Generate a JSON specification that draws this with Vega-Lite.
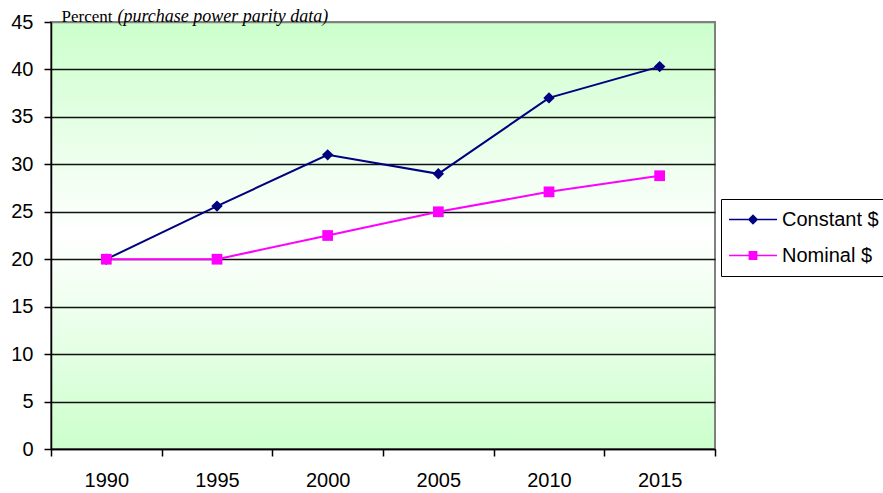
{
  "$schema": "https://vega.github.io/schema/vega-lite/v6.json",
  "width": 664,
  "height": 427,
  "autosize": {"type": "none"},
  "padding": {"left": 51, "top": 22, "right": 168, "bottom": 44},
  "background": "white",
  "data": {
    "values": [
      {"year": "1990", "series": "Constant $", "percent": 20.0},
      {"year": "1995", "series": "Constant $", "percent": 25.6},
      {"year": "2000", "series": "Constant $", "percent": 31.0},
      {"year": "2005", "series": "Constant $", "percent": 29.0},
      {"year": "2010", "series": "Constant $", "percent": 37.0},
      {"year": "2015", "series": "Constant $", "percent": 40.3},
      {"year": "1990", "series": "Nominal $", "percent": 20.0},
      {"year": "1995", "series": "Nominal $", "percent": 20.0},
      {"year": "2000", "series": "Nominal $", "percent": 22.5},
      {"year": "2005", "series": "Nominal $", "percent": 25.0},
      {"year": "2010", "series": "Nominal $", "percent": 27.1},
      {"year": "2015", "series": "Nominal $", "percent": 28.8}
    ]
  },
  "encoding": {
    "x": {
      "field": "year",
      "type": "ordinal",
      "scale": {"paddingInner": 0, "paddingOuter": 0},
      "axis": {
        "title": "(purchase power parity data)",
        "titleFont": "Liberation Serif",
        "titleFontSize": 18,
        "titleFontStyle": "italic",
        "titleFontWeight": "normal",
        "titleColor": "black",
        "titleAlign": "left",
        "titleBaseline": "alphabetic",
        "titleAngle": 0,
        "titleX": 66,
        "titleY": -428,
        "labelAngle": 0,
        "labelFont": "Liberation Sans",
        "labelFontSize": 20,
        "labelColor": "black",
        "labelPadding": 14,
        "tickBand": "extent",
        "tickSize": 7,
        "tickColor": "black",
        "tickWidth": 1.5,
        "domainColor": "black",
        "domainWidth": 1.5,
        "grid": false
      }
    },
    "y": {
      "field": "percent",
      "type": "quantitative",
      "scale": {"domain": [0, 45], "nice": false},
      "axis": {
        "title": "Percent",
        "titleFont": "Liberation Serif",
        "titleFontSize": 17,
        "titleFontWeight": "normal",
        "titleColor": "black",
        "titleAngle": 0,
        "titleAlign": "left",
        "titleBaseline": "alphabetic",
        "titleX": 10,
        "titleY": -1,
        "values": [0, 5, 10, 15, 20, 25, 30, 35, 40, 45],
        "labelFont": "Liberation Sans",
        "labelFontSize": 20,
        "labelColor": "black",
        "labelPadding": 11,
        "tickSize": 7,
        "tickColor": "black",
        "tickWidth": 1.5,
        "domainColor": "black",
        "domainWidth": 1.5,
        "grid": true,
        "gridColor": {"condition": {"test": "datum.value === 45", "value": "#808080"}, "value": "#111111"},
        "gridWidth": 1.6
      }
    },
    "color": {
      "field": "series",
      "type": "nominal",
      "scale": {"domain": ["Constant $", "Nominal $"], "range": ["#000080", "#ff00ff"]},
      "legend": {
        "title": null,
        "orient": "none",
        "legendX": 670,
        "legendY": 177,
        "padding": 7,
        "strokeColor": "black",
        "fillColor": "white",
        "labelFont": "Liberation Sans",
        "labelFontSize": 20,
        "labelColor": "black",
        "symbolSize": 64,
        "symbolOffset": 15,
        "labelOffset": 19,
        "rowPadding": 9,
        "clipHeight": 27,
        "encode": {
          "symbols": {
            "update": {
              "shape": {"signal": "datum.value === 'Constant $' ? 'M-6,-0.2H6V0.2H-6Z M0,-1.3L1.3,0L0,1.3L-1.3,0Z' : 'M-6,-0.2H6V0.2H-6Z M-1.1,-1.1H1.1V1.1H-1.1Z'"},
              "strokeWidth": {"value": 0},
              "opacity": {"value": 1}
            }
          }
        }
      }
    }
  },
  "layer": [
    {
      "mark": {"type": "line", "strokeWidth": 2},
      "encoding": {}
    },
    {
      "transform": [{"filter": "datum.series === 'Constant $'"}],
      "mark": {"type": "point", "shape": "diamond", "filled": true, "opacity": 1, "size": 130},
      "encoding": {}
    },
    {
      "transform": [{"filter": "datum.series === 'Nominal $'"}],
      "mark": {"type": "point", "shape": "square", "filled": true, "opacity": 1, "size": 115},
      "encoding": {}
    }
  ],
  "config": {
    "view": {
      "stroke": "#808080",
      "strokeWidth": 2,
      "fill": {
        "gradient": "linear",
        "x1": 0, "y1": 0, "x2": 0, "y2": 1,
        "stops": [
          {"offset": 0, "color": "#ccffcc"},
          {"offset": 0.5, "color": "#ffffff"},
          {"offset": 1, "color": "#ccffcc"}
        ]
      }
    }
  }
}
